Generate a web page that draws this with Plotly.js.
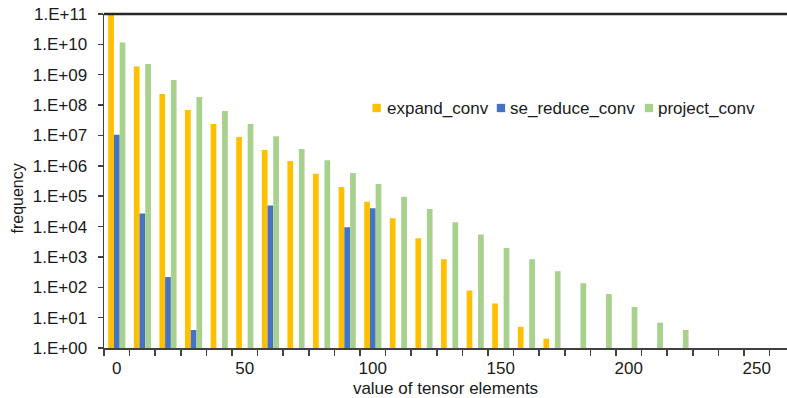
<!DOCTYPE html>
<html>
<head>
<meta charset="utf-8">
<script src="https://cdn.plot.ly/plotly-3.0.1.min.js"></script>
<style>html,body{margin:0;padding:0;background:#fff;}#chart{width:787px;height:398px;}</style>
</head>
<body>
<div id="chart"></div>
<script>
// Categories: value of tensor elements (bin starts)
const categories = [0, 10, 20, 30, 40, 50, 60, 70, 80, 90, 100, 110, 120, 130, 140, 150, 160, 170, 180, 190, 200, 210, 220, 230, 240, 250];

// Frequencies (null = no count)
const expandConv = [1.0e11, 1.85e9, 2.3e8, 6.9e7, 2.4e7, 8.9e6, 3.3e6, 1.44e6, 5.5e5, 2.0e5, 6.6e4, 1.87e4, 4.1e3, 8.3e2, 79, 29, 5.0, 2.0, null, null, null, null, null, null, null, null];
const seReduceConv = [1.05e7, 2.7e4, 2.2e2, 3.9, null, null, 4.9e4, null, null, 9.4e3, 4.0e4, null, null, null, null, null, null, null, null, null, null, null, null, null, null, null];
const projectConv = [1.15e10, 2.25e9, 6.7e8, 1.85e8, 6.4e7, 2.4e7, 9.4e6, 3.6e6, 1.52e6, 5.8e5, 2.5e5, 9.6e4, 3.8e4, 1.38e4, 5.5e3, 1.96e3, 8.3e2, 3.4e2, 135, 60, 22.4, 6.8, 3.9, null, null, null];

const seriesNames = ["expand_conv", "se_reduce_conv", "project_conv"];
const seriesColors = ["#FFC000", "#4472C4", "#A9D18E"];

const yTickVals = [1, 1e1, 1e2, 1e3, 1e4, 1e5, 1e6, 1e7, 1e8, 1e9, 1e10, 1e11];
const yTickText = ["1.E+00", "1.E+01", "1.E+02", "1.E+03", "1.E+04", "1.E+05", "1.E+06", "1.E+07", "1.E+08", "1.E+09", "1.E+10", "1.E+11"];
const xTickVals = [0, 50, 100, 150, 200, 250];
const xTickText = ["0", "50", "100", "150", "200", "250"];

const FONT = "Liberation Sans, Arial, sans-serif";
const TXT = "#1a1a1a";
const AX = "#404040";

// plot-area geometry (pixels) used to place the legend in paper coordinates
const PL = 104, PR = 787, PT = 14, PB = 348;
const px2x = p => (p - PL) / (PR - PL);
const px2y = p => (PB - p) / (PB - PT);
// legend item pixel positions (square left edge, text left edge), row centre
const legendSquareLeft = [372.5, 496.8, 644.8];
const legendTextLeft = [384.6, 508.2, 656.2];
const legendRowY = 108;
const SQ = 8.3;

const seriesData = [expandConv, seReduceConv, projectConv];
const traces = seriesData.map((vals, i) => ({
  type: "bar",
  name: seriesNames[i],
  x: categories,
  y: vals,
  marker: {color: seriesColors[i], line: {width: 0}},
  hoverinfo: "x+y+name"
}));

const legendShapes = seriesNames.map((n, i) => ({
  type: "rect", xref: "paper", yref: "paper",
  x0: px2x(legendSquareLeft[i]), x1: px2x(legendSquareLeft[i] + SQ),
  y0: px2y(legendRowY - SQ / 2), y1: px2y(legendRowY + SQ / 2),
  fillcolor: seriesColors[i], line: {width: 0}
}));
const legendTexts = seriesNames.map((n, i) => ({
  text: n, xref: "paper", yref: "paper",
  x: px2x(legendTextLeft[i]), y: px2y(legendRowY),
  xanchor: "left", yanchor: "middle", showarrow: false,
  font: {family: FONT, size: 17, color: TXT}
}));

const layout = {
  width: 787,
  height: 398,
  margin: {l: PL, r: 787 - PR, t: PT, b: 398 - PB, autoexpand: false},
  paper_bgcolor: "#fff",
  plot_bgcolor: "#fff",
  barmode: "group",
  bargap: 0.33,
  bargroupgap: 0,
  font: {family: FONT, size: 17, color: TXT},
  showlegend: false,
  xaxis: {
    range: [-5, 261.8],
    tickmode: "array",
    tickvals: xTickVals,
    ticktext: xTickText,
    ticks: "",
    ticklabelstandoff: 4,
    showgrid: false,
    zeroline: false,
    showline: true,
    linecolor: AX,
    linewidth: 1.5,
    tickfont: {family: FONT, size: 17, color: TXT},
    minor: {tick0: -5, dtick: 10, ticks: "outside", ticklen: 6, tickcolor: AX, tickwidth: 1.5, showgrid: false},
    title: {text: "value of tensor elements", font: {family: FONT, size: 17, color: TXT}, standoff: 6},
    automargin: false,
    fixedrange: true
  },
  yaxis: {
    type: "log",
    range: [0, 11],
    tickmode: "array",
    tickvals: yTickVals,
    ticktext: yTickText,
    ticks: "outside",
    ticklen: 5,
    tickcolor: AX,
    tickwidth: 1.5,
    ticklabelstandoff: 7,
    showgrid: false,
    zeroline: false,
    showline: true,
    linecolor: AX,
    linewidth: 1.5,
    tickfont: {family: FONT, size: 17, color: TXT},
    automargin: false,
    fixedrange: true
  },
  shapes: [{type: "line", xref: "paper", yref: "paper", x0: 0, x1: 1, y0: 1, y1: 1, line: {color: "#262626", width: 2.5}}].concat(legendShapes),
  annotations: [{
    text: "frequency", xref: "paper", yref: "paper", x: px2x(16.5), y: px2y(199),
    xanchor: "center", yanchor: "middle", textangle: -90, showarrow: false,
    font: {family: FONT, size: 16, color: TXT}
  }].concat(legendTexts)
};

Plotly.newPlot("chart", traces, layout, {displayModeBar: false, staticPlot: true});
</script>
</body>
</html>
